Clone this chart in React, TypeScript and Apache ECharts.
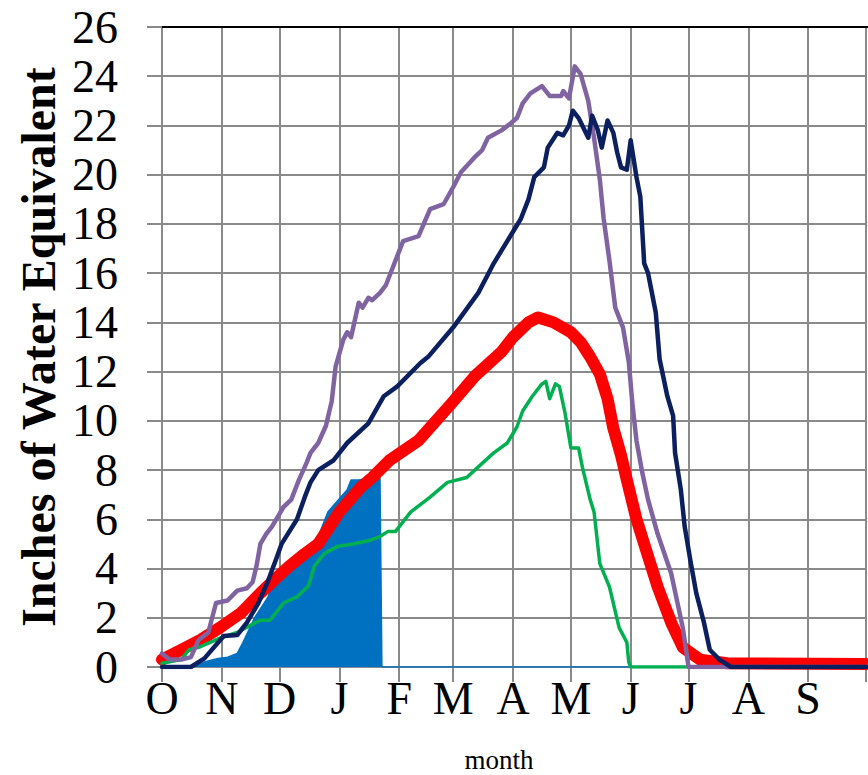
import React, { useEffect, useRef } from "react";
import * as echarts from "echarts";

// Water-year day index (0 = Oct 1) at each month start, last = end of Sep
const MONTH_START_DAYS = [0, 31, 61, 92, 123, 151, 182, 212, 243, 273, 304, 335, 365];
const MONTH_LABELS = ["O", "N", "D", "J", "F", "M", "A", "M", "J", "J", "A", "S", ""];
const Y_TICKS = { min: 0, max: 26, interval: 2 };

// [day, inches]
const currentYear: [number, number][] = [
  [0, 0], [16, 0], [22, 0.2], [29, 0.35], [34, 0.4], [39, 0.55], [42, 1.0], [45, 1.5],
  [48, 2.0], [53, 2.6], [55, 2.85], [57, 3.4], [64, 3.9], [71, 4.3], [75, 4.55], [79, 4.9],
  [86, 6.3], [96, 7.2], [98, 7.6], [102, 7.6], [110, 7.7], [113, 7.8], [114, 0], [365, 0],
];

const median: [number, number][] = [
  [0, 0.3], [10, 0.7], [20, 1.1], [30, 1.6], [41, 2.2], [51, 3.0], [59, 3.6], [66, 4.1],
  [74, 4.6], [81, 5.0], [92, 6.3], [103, 7.3], [109, 7.7], [118, 8.4], [133, 9.2], [150, 10.7],
  [162, 11.8], [176, 12.8], [182, 13.4], [190, 14.0], [195, 14.2], [203, 14.0], [212, 13.6],
  [217, 13.2], [222, 12.6], [227, 11.9], [231, 10.9], [234, 9.7], [238, 8.6], [241, 7.6],
  [246, 6.0], [252, 4.5], [257, 3.25], [264, 1.8], [270, 0.8], [279, 0.3], [293, 0.15], [365, 0.12],
];

const maxYear: [number, number][] = [
  [0, 0.55], [4, 0.3], [10, 0.3], [15, 0.4], [19, 1.1], [24, 1.4], [26, 2.0], [28, 2.6],
  [34, 2.7], [39, 3.1], [44, 3.2], [47, 3.45], [49, 4.1], [51, 5.0], [54, 5.4], [57, 5.7],
  [60, 6.1], [63, 6.5], [67, 6.8], [71, 7.6], [75, 8.3], [77, 8.7], [81, 9.1], [85, 9.8],
  [88, 10.8], [90, 12.2], [94, 13.3], [96, 13.6], [98, 13.4], [102, 14.8], [104, 14.6],
  [107, 15.0], [109, 14.9], [113, 15.2], [116, 15.5], [120, 16.3], [125, 17.3], [133, 17.5],
  [139, 18.6], [146, 18.8], [151, 19.5], [155, 20.1], [162, 20.7], [166, 21.0], [169, 21.5],
  [176, 21.8], [181, 22.1], [184, 22.3], [187, 22.9], [191, 23.3], [197, 23.6], [201, 23.2],
  [207, 23.2], [208, 23.4], [211, 23.1], [214, 24.4], [217, 24.1], [221, 23.0], [224, 21.5],
  [227, 19.8], [229, 18.2], [232, 16.5], [235, 14.6], [239, 13.8], [242, 12.4], [244, 10.6],
  [246, 9.2], [249, 7.9], [252, 6.8], [257, 5.4], [264, 3.8], [270, 1.6], [273, 0], [365, 0],
];

const highYear: [number, number][] = [
  [0, 0], [15, 0], [22, 0.35], [32, 1.26], [39, 1.3], [44, 1.8], [50, 2.6], [55, 3.5],
  [59, 4.35], [62, 5.0], [70, 6.0], [74, 6.9], [77, 7.5], [81, 8.0], [89, 8.4], [96, 9.1],
  [107, 9.9], [115, 11.0], [122, 11.4], [134, 12.35], [138, 12.6], [151, 13.8], [164, 15.2],
  [172, 16.4], [186, 18.2], [190, 19.0], [193, 19.9], [198, 20.3], [200, 21.1], [205, 21.7],
  [208, 21.6], [211, 22.0], [213, 22.6], [216, 22.3], [221, 21.5], [223, 22.4], [226, 21.8],
  [228, 21.1], [231, 22.2], [234, 21.7], [236, 20.9], [238, 20.3], [241, 20.2], [243, 21.4],
  [246, 19.9], [248, 19.1], [250, 16.4], [252, 16.0], [253, 15.6], [256, 14.4], [258, 12.5],
  [262, 11.0], [265, 10.2], [266, 8.7], [269, 7.2], [271, 5.7], [274, 4.3], [277, 3.0],
  [281, 1.8], [284, 0.7], [289, 0.3], [295, 0], [365, 0],
];

const minYear: [number, number][] = [
  [0, 0.15], [10, 0.3], [14, 0.7], [19, 0.8], [25, 1.0], [31, 1.2], [39, 1.4], [46, 1.7],
  [51, 1.9], [56, 1.9], [60, 2.3], [63, 2.6], [70, 2.85], [76, 3.3], [79, 4.1], [84, 4.6],
  [91, 4.9], [99, 5.0], [108, 5.15], [113, 5.3], [117, 5.5], [121, 5.5], [129, 6.3], [139, 6.9],
  [148, 7.5], [158, 7.7], [165, 8.2], [172, 8.7], [179, 9.1], [184, 9.75], [187, 10.4],
  [192, 11.0], [197, 11.5], [199, 11.6], [201, 10.9], [204, 11.5], [206, 11.4], [209, 10.3],
  [212, 8.9], [216, 8.9], [218, 8.1], [222, 6.8], [224, 6.3], [227, 4.2], [232, 3.25],
  [237, 1.6], [241, 1.0], [242, 0.2], [243, 0], [365, 0],
];

const Y_TITLE = "Inches of Water Equivalent";
const X_TITLE = "month";

const FONT = "'Liberation Serif', 'Times New Roman', serif";
const GRID_COLOR = "#8a8a8a";

export default function App() {
  const ref = useRef<HTMLDivElement>(null);

  useEffect(() => {
    if (!ref.current) return;
    const chart = echarts.init(ref.current, undefined, { renderer: "svg" });
    const days = Array.from({ length: 366 }, (_, i) => String(i));
    const startSet = new Set(MONTH_START_DAYS);
    const labelMap = new Map<number, string>();
    MONTH_START_DAYS.forEach((d, i) => labelMap.set(d, MONTH_LABELS[i]));

    const lineSeries = (data: [number, number][], color: string, width: number, z: number) => ({
      type: "line" as const,
      data,
      showSymbol: false,
      symbol: "none",
      z,
      lineStyle: { color, width, join: "round", cap: "round" },
      emphasis: { disabled: true },
    });

    chart.setOption({
      animation: false,
      grid: { left: 162, right: 2, top: 27, bottom: 108, containLabel: false },
      xAxis: {
        type: "category",
        data: days,
        boundaryGap: false,
        axisLine: { show: true, lineStyle: { color: GRID_COLOR, width: 2 } },
        axisTick: {
          show: true,
          length: 15,
          interval: (idx: number) => startSet.has(idx),
          lineStyle: { color: GRID_COLOR, width: 2 },
        },
        axisLabel: {
          interval: (idx: number) => labelMap.has(idx) && labelMap.get(idx) !== "",
          formatter: (_v: string, idx: number) => labelMap.get(idx) ?? "",
          fontFamily: FONT,
          fontSize: 46,
          color: "#000",
          margin: 8,
        },
        splitLine: {
          show: true,
          interval: (idx: number) => startSet.has(idx),
          lineStyle: { color: GRID_COLOR, width: 2 },
        },
      },
      yAxis: {
        type: "value",
        min: Y_TICKS.min,
        max: Y_TICKS.max,
        interval: Y_TICKS.interval,
        axisLine: { show: true, lineStyle: { color: GRID_COLOR, width: 2 } },
        axisTick: { show: true, length: 15, lineStyle: { color: GRID_COLOR, width: 2 } },
        axisLabel: { fontFamily: FONT, fontSize: 46, color: "#000", margin: 44 },
        splitLine: { show: true, lineStyle: { color: GRID_COLOR, width: 2 } },
      },
      series: [
        {
          type: "line",
          data: currentYear,
          showSymbol: false,
          symbol: "none",
          z: 1,
          lineStyle: { color: "#0070C0", width: 1.5 },
          areaStyle: { color: "#0070C0", opacity: 1 },
          emphasis: { disabled: true },
        },
        lineSeries(median, "#FF0000", 12, 2),
        lineSeries(minYear, "#00B050", 3.5, 3),
        lineSeries(maxYear, "#8064A2", 4.5, 4),
        lineSeries(highYear, "#0C1F5E", 4.5, 5),
      ],
      graphic: [
        {
          type: "line",
          shape: { x1: 162, y1: 27, x2: 868, y2: 27 },
          style: { stroke: "#000", lineWidth: 2 },
          z: 100,
        },
        {
          type: "text",
          x: 38,
          y: 347,
          rotation: Math.PI / 2,
          style: {
            text: Y_TITLE,
            font: `bold 48px ${FONT}`,
            fill: "#000",
            textAlign: "center",
            textVerticalAlign: "middle",
          },
        },
        {
          type: "text",
          x: 499,
          y: 760,
          style: {
            text: X_TITLE,
            font: `27px ${FONT}`,
            fill: "#000",
            textAlign: "center",
            textVerticalAlign: "middle",
          },
        },
      ],
    });

    return () => chart.dispose();
  }, []);

  return (
    <div
      ref={ref}
      style={{ position: "fixed", left: 0, top: 0, width: 868, height: 775, background: "#fff" }}
    />
  );
}
